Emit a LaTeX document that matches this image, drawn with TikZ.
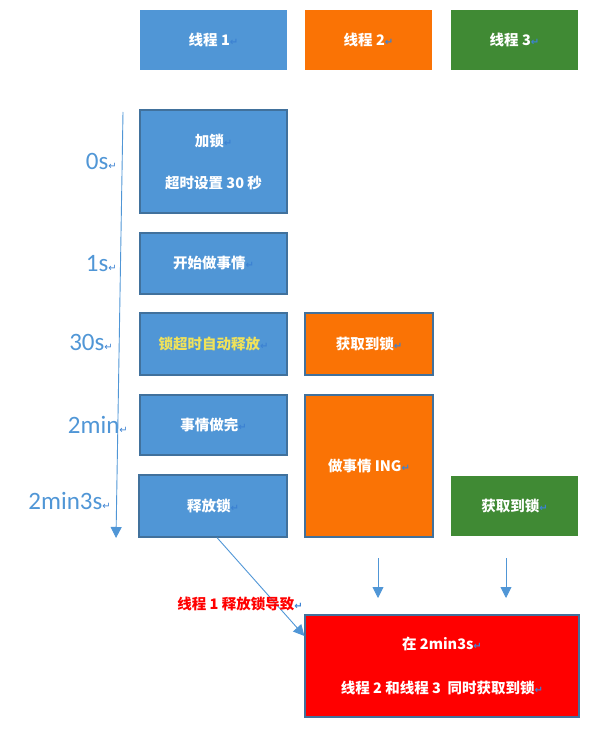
\documentclass[tikz,border=0pt]{standalone}
\usepackage{fontspec}
\setmainfont{Liberation Sans}
\newfontfamily\cjk{Noto Sans CJK SC}
\newfontfamily\latfont{Carlito}
\newfontfamily\djfont{DejaVu Sans}
\usetikzlibrary{arrows.meta}
\definecolor{cblue}{RGB}{80,150,214}
\definecolor{cborder}{RGB}{65,113,156}
\definecolor{corange}{RGB}{250,115,5}
\definecolor{cgreen}{RGB}{64,138,52}
\definecolor{cred}{RGB}{255,0,0}
\definecolor{cyellow}{RGB}{240,226,90}
\definecolor{cline}{RGB}{80,150,214}
\definecolor{cret}{RGB}{60,130,210}
\newcommand{\retm}{{\djfont\fontsize{10}{10}\selectfont\textcolor{cret}{↵}}}
\tikzset{
  box/.style={draw=cborder, line width=1.2pt, minimum width=#1, inner sep=0pt, text=white, font=\cjk\bfseries\fontsize{14.5}{17}\selectfont},
  hdr/.style={minimum width=#1, minimum height=60pt, inner sep=0pt, text=white, font=\cjk\bfseries\fontsize{14.5}{17}\selectfont},
  tlabel/.style={anchor=east, text=cline, font=\latfont\fontsize{25}{25}\selectfont, inner sep=0pt},
  arr/.style={draw=cline, line width=0.9pt, -{Triangle[length=11pt,width=11pt]}},
}
\begin{document}
\begin{tikzpicture}[x=1pt,y=-1pt]
\useasboundingbox (0,0) rectangle (605,733);
% headers
\node[hdr=147pt, fill=cblue] (th1) at (213.5,40) {线程 1\retm};
\node[hdr=127pt, fill=corange] (th2) at (368.5,40) {线程 2\retm};
\node[hdr=127pt, fill=cgreen] (th3) at (514.5,40) {线程 3\retm};
% thread 1
\node[box=147pt, fill=cblue, minimum height=103pt, align=center] (a1) at (213.5,161.5) {加锁\retm\\[25pt]超时设置 30 秒};
\node[box=147pt, fill=cblue, minimum height=61pt] (a2) at (213.5,263.5) {开始做事情\retm};
\node[box=147pt, fill=cblue, minimum height=62pt, text=cyellow] (a3) at (213.5,344) {锁超时自动释放\retm};
\node[box=147pt, fill=cblue, minimum height=60pt] (a4) at (213.5,425) {事情做完\retm};
\node[box=148pt, fill=cblue, minimum height=62pt] (a5) at (213,506) {释放锁\retm};
% thread 2
\node[box=128pt, fill=corange, minimum height=62pt] (b1) at (369,344) {获取到锁\retm};
\node[box=128pt, fill=corange, minimum height=142pt] (b2) at (369,466) {做事情 ING\retm};
% thread 3
\node[hdr=127pt, fill=cgreen] (c1) at (514.5,506) {获取到锁\retm};
% result
\node[box=274pt, fill=cred, minimum height=102pt, align=center] (r) at (442,666) {在 2min3s\retm\\[27pt]线程 2 和线程 3\ \ 同时获取到锁\retm};
% time labels
\node[tlabel] (l0) at (117,161) {0s\retm};
\node[tlabel] (l1) at (117,264) {1s\retm};
\node[tlabel] (l2) at (113,342) {30s\retm};
\node[tlabel] (l3) at (128,425) {2min\retm};
\node[tlabel] (l4) at (111,501) {2min3s\retm};
% timeline
\coordinate (t0) at (123,112);
\coordinate (t1) at (116,538);
\draw[arr] (t0) -- (t1);
% arrows
\draw[arr] ([xshift=4pt]a5.south) -- ([yshift=30pt]r.west);
\coordinate (d2s) at (378,558);
\coordinate (d2e) at (378,598);
\coordinate (d3s) at (506,558);
\coordinate (d3e) at (506,598);
\draw[arr] (d2s) -- (d2e);
\draw[arr] (d3s) -- (d3e);
\node[text=cred, font=\cjk\bfseries\fontsize{14.5}{16}\selectfont, inner sep=0pt] (lbl) at (240,604) {线程 1 释放锁导致\retm};
\end{tikzpicture}
\end{document}
